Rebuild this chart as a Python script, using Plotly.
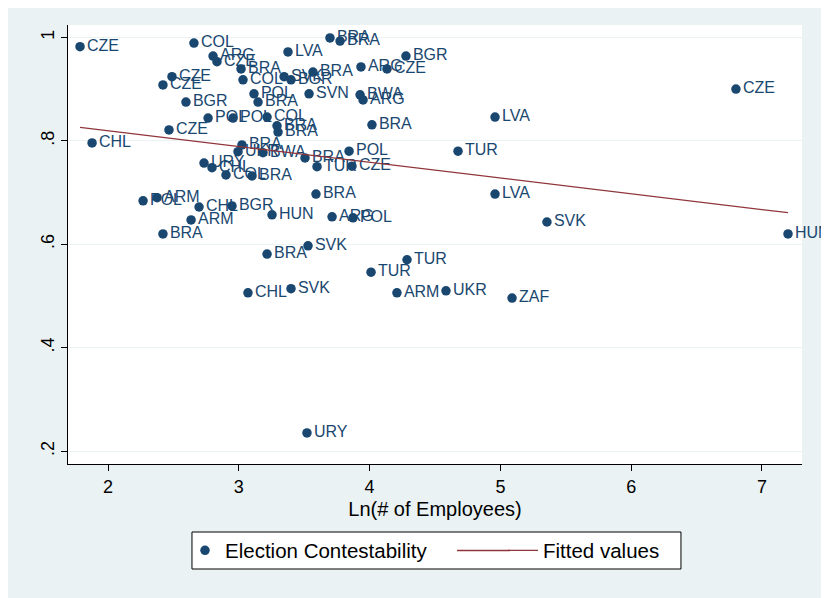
import numpy as np
import plotly.graph_objects as go

# Ln(# of employees) and election contestability with country labels
ln_emp = [1.786, 2.657, 2.803, 2.833, 3.017, 3.032, 3.376, 3.697, 3.774, 3.934,
          4.133, 4.278, 3.567, 3.346, 3.399, 3.116, 3.147, 3.537, 3.927, 3.950,
          2.765, 2.956, 3.216, 3.292, 3.300, 4.018, 2.596, 2.489, 2.420, 2.466,
          1.878, 4.959, 6.801, 7.199, 4.676, 3.843, 3.024, 2.994, 3.185, 3.506,
          3.598, 3.865, 2.734, 2.795, 2.902, 3.101, 3.590, 4.959, 2.268, 2.375,
          2.696, 2.948, 2.635, 2.420, 3.254, 3.713, 3.873, 5.356, 3.529, 3.216,
          3.070, 3.399, 4.286, 4.011, 4.209, 4.584, 5.089, 3.521]
contest = [0.982, 0.989, 0.964, 0.953, 0.939, 0.918, 0.972, 0.999, 0.993, 0.943,
           0.939, 0.964, 0.933, 0.924, 0.918, 0.891, 0.875, 0.891, 0.889, 0.879,
           0.844, 0.844, 0.846, 0.829, 0.817, 0.831, 0.875, 0.924, 0.908, 0.821,
           0.796, 0.846, 0.900, 0.620, 0.780, 0.780, 0.792, 0.779, 0.777, 0.767,
           0.750, 0.751, 0.757, 0.748, 0.734, 0.732, 0.697, 0.697, 0.684, 0.690,
           0.672, 0.674, 0.647, 0.620, 0.657, 0.653, 0.651, 0.643, 0.597, 0.581,
           0.506, 0.514, 0.570, 0.546, 0.506, 0.510, 0.496, 0.235]
country = ["CZE", "COL", "ARG", "CZE", "BRA", "COL", "LVA", "BRA", "BRA", "ARG",
           "CZE", "BGR", "BRA", "SVK", "BGR", "POL", "BRA", "SVN", "BWA", "ARG",
           "POL", "POL", "COL", "BRA", "BRA", "BRA", "BGR", "CZE", "CZE", "CZE",
           "CHL", "LVA", "CZE", "HUN", "TUR", "POL", "BRA", "UKR", "BWA", "BRA",
           "TUR", "CZE", "URY", "CHL", "COL", "BRA", "BRA", "LVA", "POL", "ARM",
           "CHL", "BGR", "ARM", "BRA", "HUN", "ARG", "POL", "SVK", "SVK", "BRA",
           "CHL", "SVK", "TUR", "TUR", "ARM", "UKR", "ZAF", "URY"]

x_ticks = [2, 3, 4, 5, 6, 7]
y_ticks = [0.2, 0.4, 0.6, 0.8, 1.0]
y_tick_labels = [".2", ".4", ".6", ".8", "1"]

# OLS fitted values
slope, intercept = np.polyfit(ln_emp, contest, 1)
fit_x = np.array([min(ln_emp), max(ln_emp)])
fit_y = intercept + slope * fit_x

NAVY = "#1A476F"
MAROON = "#90353B"
BG = "#EAF2F3"
FONT = "Liberation Sans, Arial, sans-serif"

fig = go.Figure()
fig.add_trace(go.Scatter(
    x=ln_emp, y=contest, mode="markers+text", text=country,
    textposition="middle right",
    textfont=dict(family=FONT, size=16, color=NAVY),
    marker=dict(color=NAVY, size=9.5),
    cliponaxis=False,
    name="Election Contestability",
    legend="legend",
))
fig.add_trace(go.Scatter(
    x=fit_x, y=fit_y, mode="lines",
    line=dict(color=MAROON, width=1.3),
    name="Fitted values",
    legend="legend2",
))

LEG_Y = -0.197
legend_common = dict(
    orientation="h", yanchor="middle", y=LEG_Y, xanchor="left",
    bgcolor="rgba(0,0,0,0)", borderwidth=0,
    font=dict(family=FONT, size=20.5, color="black"),
)

fig.update_layout(
    width=821, height=590,
    margin=dict(l=60, r=27, t=17, b=134),
    paper_bgcolor=BG, plot_bgcolor="white",
    font=dict(family=FONT, color="black"),
    showlegend=True,
    legend=dict(x=0.1594, **legend_common),
    legend2=dict(x=0.5926, **legend_common),
    shapes=[
        # legend frame
        dict(type="rect", xref="paper", yref="paper",
             x0=0.1689, x1=0.8351, y0=-0.2392, y1=-0.1549,
             fillcolor="white", line=dict(color="black", width=1), layer="below"),
        # longer key line for "Fitted values"
        dict(type="line", xref="paper", yref="paper",
             x0=0.5300, x1=0.6020, y0=LEG_Y, y1=LEG_Y,
             line=dict(color=MAROON, width=1.3), layer="below"),
    ],
)
fig.update_xaxes(
    range=[1.694, 7.306], tickvals=x_ticks, ticks="outside", ticklen=6,
    tickcolor="black", showline=True, linecolor="black", linewidth=1,
    showgrid=False, zeroline=False,
    tickfont=dict(family=FONT, size=18, color="black"),
    title=dict(text="Ln(# of Employees)", font=dict(family=FONT, size=20, color="black"),
               standoff=6),
)
fig.update_yaxes(
    range=[0.175, 1.024], tickvals=y_ticks, ticktext=y_tick_labels, tickangle=-90,
    ticks="outside", ticklen=6, tickcolor="black", showline=True, linecolor="black",
    linewidth=1, showgrid=True, gridcolor=BG, gridwidth=1, zeroline=False,
    tickfont=dict(family=FONT, size=18, color="black"),
)

fig.write_html("out.html")
